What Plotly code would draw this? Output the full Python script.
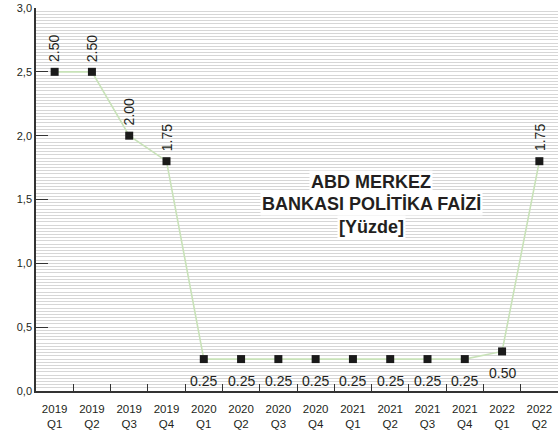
import plotly.graph_objects as go

# ---- data ----
years = ["2019", "2019", "2019", "2019", "2020", "2020", "2020", "2020",
         "2021", "2021", "2021", "2021", "2022", "2022"]
quarters = ["Q1", "Q2", "Q3", "Q4", "Q1", "Q2", "Q3", "Q4",
            "Q1", "Q2", "Q3", "Q4", "Q1", "Q2"]
# plotted positions
rates = [2.5, 2.5, 2.0, 1.8, 0.25, 0.25, 0.25, 0.25,
         0.25, 0.25, 0.25, 0.25, 0.31, 1.8]
# value labels printed on the chart
rate_labels = ["2.50", "2.50", "2.00", "1.75", "0.25", "0.25", "0.25", "0.25",
               "0.25", "0.25", "0.25", "0.25", "0.50", "1.75"]
# labels drawn vertically above the point (True) or horizontally below (False)
label_above = [True, True, True, True, False, False, False, False,
               False, False, False, False, False, True]
title_lines = ["ABD MERKEZ", "BANKASI POLİTİKA FAİZİ", "[Yüzde]"]
y_ticks = [0, 0.5, 1.0, 1.5, 2.0, 2.5, 3.0]

categories = [f"{y}<br>{q}" for y, q in zip(years, quarters)]

FONT = "Liberation Sans, Arial, sans-serif"
DARK = "#231f20"

fig = go.Figure()
fig.add_trace(go.Scatter(
    x=categories, y=rates, mode="lines+markers",
    line=dict(color="#c8e2b8", width=1.6),
    marker=dict(symbol="square", size=8, color="#1a1a1a"),
    hoverinfo="skip", showlegend=False,
))

annotations = []
for c, v, lab, above in zip(categories, rates, rate_labels, label_above):
    if above:
        annotations.append(dict(
            x=c, y=v, xref="x", yref="y", text=lab, showarrow=False,
            textangle=-90, xanchor="center", yanchor="bottom", yshift=8,
            font=dict(family=FONT, size=14, color=DARK),
        ))
    else:
        annotations.append(dict(
            x=c, y=v, xref="x", yref="y", text=lab, showarrow=False,
            xanchor="center", yanchor="top", yshift=-12,
            font=dict(family=FONT, size=14, color=DARK),
        ))

title_y = [0.545, 0.487, 0.428]
for txt, ty in zip(title_lines, title_y):
    annotations.append(dict(
        x=0.642, y=ty, xref="paper", yref="paper", text=f"<b>{txt}</b>",
        showarrow=False, xanchor="center", yanchor="middle",
        bgcolor="white", borderpad=1,
        font=dict(family=FONT, size=18, color=DARK),
    ))

fig.update_layout(
    width=560, height=433,
    margin=dict(l=36, r=2, t=8, b=42),
    paper_bgcolor="white", plot_bgcolor="white",
    separators=",.",
    font=dict(family=FONT, size=11, color=DARK),
    annotations=annotations,
    xaxis=dict(
        type="category", range=[-0.5, len(categories) - 0.5],
        showgrid=False, zeroline=False,
        showline=True, linecolor="#333333", linewidth=1.5,
        ticks="inside", ticklen=7, tickwidth=1.2, tickcolor="#333333",
        tickson="boundaries", ticklabelstandoff=6,
        tickfont=dict(family=FONT, size=11.5, color=DARK),
    ),
    yaxis=dict(
        range=[0, 3], tickvals=y_ticks, tickformat=".1f",
        showline=True, linecolor="#333333", linewidth=1.5,
        ticks="inside", ticklen=12, tickwidth=1.2, tickcolor="#333333",
        showgrid=True, gridcolor="#d6d6d6", gridwidth=1, zeroline=False,
        ticklabeloverflow="allow",
        minor=dict(dtick=0.025, tick0=0, showgrid=True,
                   gridcolor="#d6d6d6", gridwidth=1, ticks=""),
        tickfont=dict(family=FONT, size=11, color=DARK),
    ),
)

fig.write_html("out.html", config={"displayModeBar": False},
               post_script="document.body.style.margin='0';")
